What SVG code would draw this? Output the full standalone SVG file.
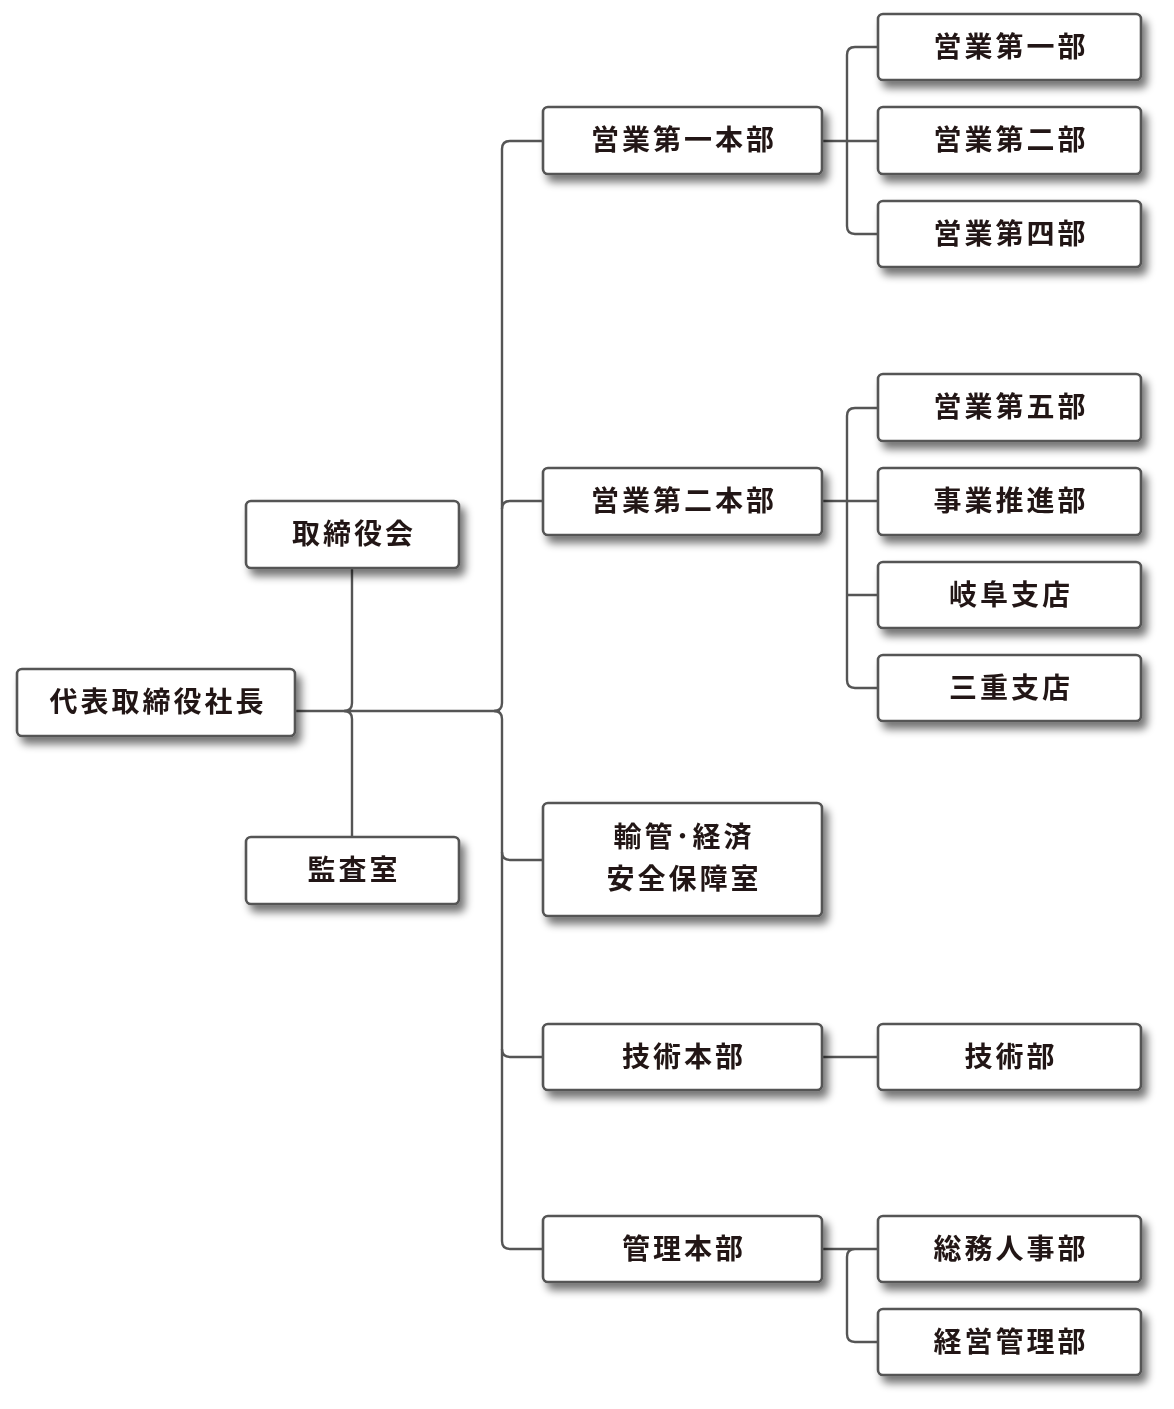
<svg xmlns="http://www.w3.org/2000/svg" width="1174" height="1409" viewBox="0 0 1174 1409">
<style>
.b{fill:#fff;stroke:#555;stroke-width:2.6}
.t{font-family:"Noto Sans CJK JP",sans-serif;font-weight:700;font-size:28px;fill:#231815;text-anchor:middle;letter-spacing:3px}
.c{fill:none;stroke:#555;stroke-width:2.4}
</style>
<defs>
<filter id="s" x="-20%" y="-30%" width="150%" height="180%"><feGaussianBlur in="SourceAlpha" stdDeviation="4"/><feOffset dx="5" dy="7"/><feComponentTransfer><feFuncA type="linear" slope="0.55"/></feComponentTransfer><feMerge><feMergeNode/><feMergeNode in="SourceGraphic"/></feMerge></filter>
</defs>
<rect width="1174" height="1409" fill="#fff"/>
<g id="connectors" class="c">
<path d="M295 711H500"/>
<path d="M352 568V703Q352 711 344 711Q352 711 352 719V837"/>
<path d="M543 141H510Q502 141 502 149V703Q502 711 494 711Q502 711 502 719V1241Q502 1249 510 1249H543"/>
<path d="M502 509Q502 501 510 501H543"/>
<path d="M502 852Q502 860 510 860H543"/>
<path d="M502 1049Q502 1057 510 1057H543"/>
<path d="M822 141H878M878 47H855Q847 47 847 55V226Q847 234 855 234H878"/>
<path d="M822 501H878M878 408H855Q847 408 847 416V680Q847 688 855 688H878M847 595H878"/>
<path d="M822 1057H878"/>
<path d="M822 1249H847M878 1249H855Q847 1249 847 1257V1334Q847 1342 855 1342H878M847 1249H878"/>
</g>
<g filter="url(#s)">
<g id="n0"><rect class="b" x="17" y="669" width="278" height="67" rx="5"/><text class="t" x="158" y="712">代表取締役社長</text></g>
<g id="n1"><rect class="b" x="246" y="501" width="213" height="67" rx="5"/><text class="t" x="354" y="544">取締役会</text></g>
<g id="n2"><rect class="b" x="246" y="837" width="213" height="67" rx="5"/><text class="t" x="354" y="880">監査室</text></g>
<g id="n3"><rect class="b" x="543" y="107" width="279" height="67" rx="5"/><text class="t" x="684" y="150">営業第一本部</text></g>
<g id="n4"><rect class="b" x="543" y="468" width="279" height="67" rx="5"/><text class="t" x="684" y="511">営業第二本部</text></g>
<g id="n5"><rect class="b" x="543" y="803" width="279" height="113" rx="5"/><text class="t" x="684" y="847">輸管･経済</text><text class="t" x="684" y="889">安全保障室</text></g>
<g id="n6"><rect class="b" x="543" y="1024" width="279" height="66" rx="5"/><text class="t" x="684" y="1067">技術本部</text></g>
<g id="n7"><rect class="b" x="543" y="1216" width="279" height="66" rx="5"/><text class="t" x="684" y="1259">管理本部</text></g>
<g id="n8"><rect class="b" x="878" y="14" width="263" height="66" rx="5"/><text class="t" x="1011" y="57">営業第一部</text></g>
<g id="n9"><rect class="b" x="878" y="107" width="263" height="67" rx="5"/><text class="t" x="1011" y="150">営業第二部</text></g>
<g id="n10"><rect class="b" x="878" y="201" width="263" height="66" rx="5"/><text class="t" x="1011" y="244">営業第四部</text></g>
<g id="n11"><rect class="b" x="878" y="374" width="263" height="67" rx="5"/><text class="t" x="1011" y="417">営業第五部</text></g>
<g id="n12"><rect class="b" x="878" y="468" width="263" height="67" rx="5"/><text class="t" x="1011" y="511">事業推進部</text></g>
<g id="n13"><rect class="b" x="878" y="562" width="263" height="66" rx="5"/><text class="t" x="1011" y="605">岐阜支店</text></g>
<g id="n14"><rect class="b" x="878" y="655" width="263" height="66" rx="5"/><text class="t" x="1011" y="698">三重支店</text></g>
<g id="n15"><rect class="b" x="878" y="1024" width="263" height="66" rx="5"/><text class="t" x="1011" y="1067">技術部</text></g>
<g id="n16"><rect class="b" x="878" y="1216" width="263" height="66" rx="5"/><text class="t" x="1011" y="1259">総務人事部</text></g>
<g id="n17"><rect class="b" x="878" y="1309" width="263" height="66" rx="5"/><text class="t" x="1011" y="1352">経営管理部</text></g>
</g>
</svg>
